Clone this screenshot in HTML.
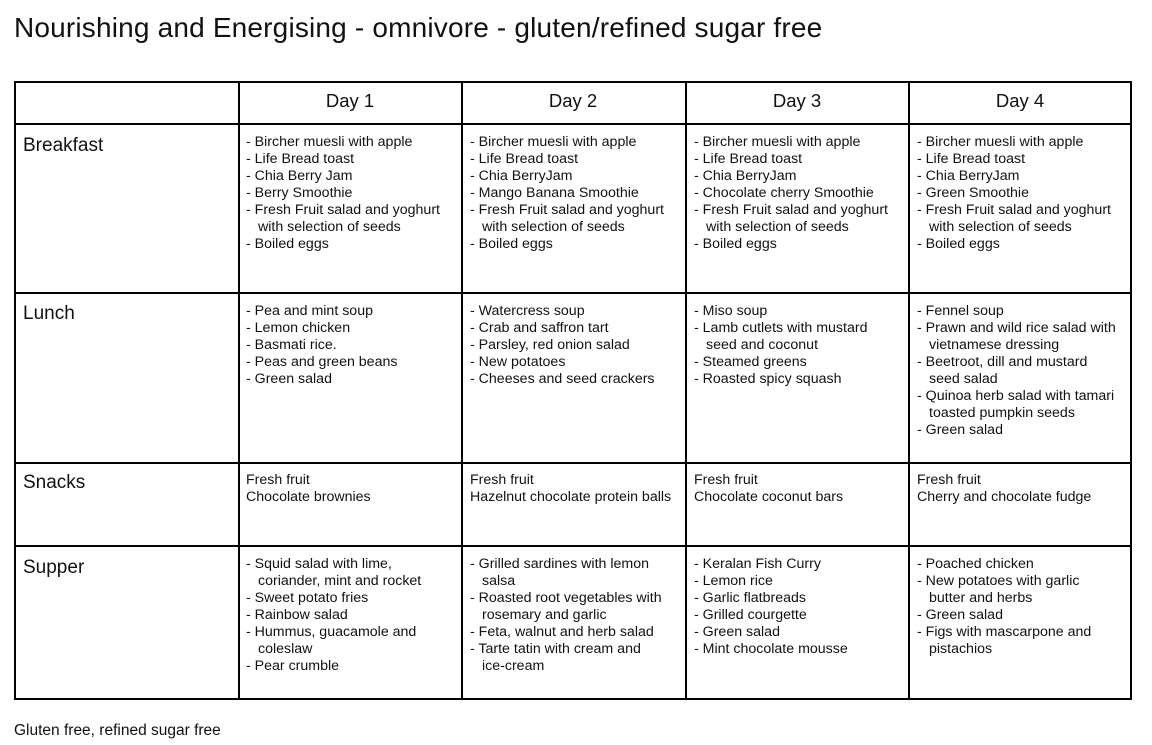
<!DOCTYPE html>
<html><head><meta charset="utf-8"><style>
body{margin:0;width:1152px;height:745px;background:#fff;font-family:"Liberation Sans",sans-serif;color:#111;position:relative;overflow:hidden}
.t{position:absolute;white-space:nowrap}
.h{position:absolute;background:#000;height:2px;left:14px;width:1118px}
.v{position:absolute;background:#000;width:2px;top:81px;height:619px}
.c{position:absolute;font-size:14.2px;line-height:17px;white-space:nowrap}
.c div.i{padding-left:12px}
.lab{position:absolute;left:23px;font-size:19px}
.day{position:absolute;top:90px;font-size:18.5px;width:222px;text-align:center}
</style></head><body>
<div class="t" style="left:14px;top:12px;font-size:28px;letter-spacing:0.18px">Nourishing and Energising - omnivore - gluten/refined sugar free</div>
<div class="h" style="top:81px"></div><div class="h" style="top:123px"></div><div class="h" style="top:292px"></div><div class="h" style="top:462px"></div><div class="h" style="top:545px"></div><div class="h" style="top:698px"></div>
<div class="v" style="left:14px"></div><div class="v" style="left:238px"></div><div class="v" style="left:461px"></div><div class="v" style="left:685px"></div><div class="v" style="left:908px"></div><div class="v" style="left:1130px"></div>
<div class="day" style="left:239px">Day 1</div><div class="day" style="left:462px">Day 2</div><div class="day" style="left:686px">Day 3</div><div class="day" style="left:909px">Day 4</div>
<div class="lab" style="top:135px">Breakfast</div><div class="lab" style="top:303px">Lunch</div><div class="lab" style="top:472px">Snacks</div><div class="lab" style="top:557px">Supper</div>

<div class="c" style="left:246px;top:134px"><div>- Bircher muesli with apple</div><div>- Life Bread toast</div><div>- Chia Berry Jam</div><div>- Berry Smoothie</div><div>- Fresh Fruit salad and yoghurt</div><div class="i">with selection of seeds</div><div>- Boiled eggs</div></div>
<div class="c" style="left:470px;top:134px"><div>- Bircher muesli with apple</div><div>- Life Bread toast</div><div>- Chia BerryJam</div><div>- Mango Banana Smoothie</div><div>- Fresh Fruit salad and yoghurt</div><div class="i">with selection of seeds</div><div>- Boiled eggs</div></div>
<div class="c" style="left:694px;top:134px"><div>- Bircher muesli with apple</div><div>- Life Bread toast</div><div>- Chia BerryJam</div><div>- Chocolate cherry Smoothie</div><div>- Fresh Fruit salad and yoghurt</div><div class="i">with selection of seeds</div><div>- Boiled eggs</div></div>
<div class="c" style="left:917px;top:134px"><div>- Bircher muesli with apple</div><div>- Life Bread toast</div><div>- Chia BerryJam</div><div>- Green Smoothie</div><div>- Fresh Fruit salad and yoghurt</div><div class="i">with selection of seeds</div><div>- Boiled eggs</div></div>

<div class="c" style="left:246px;top:303px"><div>- Pea and mint soup</div><div>- Lemon chicken</div><div>- Basmati rice.</div><div>- Peas and green beans</div><div>- Green salad</div></div>
<div class="c" style="left:470px;top:303px"><div>- Watercress soup</div><div>- Crab and saffron tart</div><div>- Parsley, red onion salad</div><div>- New potatoes</div><div>- Cheeses and seed crackers</div></div>
<div class="c" style="left:694px;top:303px"><div>- Miso soup</div><div>- Lamb cutlets with mustard</div><div class="i">seed and coconut</div><div>- Steamed greens</div><div>- Roasted spicy squash</div></div>
<div class="c" style="left:917px;top:303px"><div>- Fennel soup</div><div>- Prawn and wild rice salad with</div><div class="i">vietnamese dressing</div><div>- Beetroot, dill and mustard</div><div class="i">seed salad</div><div>- Quinoa herb salad with tamari</div><div class="i">toasted pumpkin seeds</div><div>- Green salad</div></div>

<div class="c" style="left:246px;top:472px"><div>Fresh fruit</div><div>Chocolate brownies</div></div>
<div class="c" style="left:470px;top:472px"><div>Fresh fruit</div><div>Hazelnut chocolate protein balls</div></div>
<div class="c" style="left:694px;top:472px"><div>Fresh fruit</div><div>Chocolate coconut bars</div></div>
<div class="c" style="left:917px;top:472px"><div>Fresh fruit</div><div>Cherry and chocolate fudge</div></div>

<div class="c" style="left:246px;top:556px"><div>- Squid salad with lime,</div><div class="i">coriander, mint and rocket</div><div>- Sweet potato fries</div><div>- Rainbow salad</div><div>- Hummus, guacamole and</div><div class="i">coleslaw</div><div>- Pear crumble</div></div>
<div class="c" style="left:470px;top:556px"><div>- Grilled sardines with lemon</div><div class="i">salsa</div><div>- Roasted root vegetables with</div><div class="i">rosemary and garlic</div><div>- Feta, walnut and herb salad</div><div>- Tarte tatin with cream and</div><div class="i">ice-cream</div></div>
<div class="c" style="left:694px;top:556px"><div>- Keralan Fish Curry</div><div>- Lemon rice</div><div>- Garlic flatbreads</div><div>- Grilled courgette</div><div>- Green salad</div><div>- Mint chocolate mousse</div></div>
<div class="c" style="left:917px;top:556px"><div>- Poached chicken</div><div>- New potatoes with garlic</div><div class="i">butter and herbs</div><div>- Green salad</div><div>- Figs with mascarpone and</div><div class="i">pistachios</div></div>

<div class="t" style="left:14px;top:722px;font-size:15.5px">Gluten free, refined sugar free</div>
</body></html>
